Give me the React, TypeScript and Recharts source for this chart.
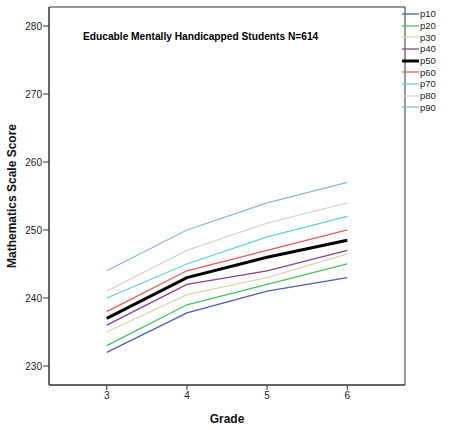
import { LineChart, Line, XAxis, YAxis, Legend, ReferenceArea } from "recharts"

const grades = [3, 4, 5, 6]
const p10 = [232, 237.8, 241, 243]
const p20 = [233, 239, 242, 245]
const p30 = [235, 240.5, 243, 246.5]
const p40 = [236, 242, 244, 247]
const p50 = [237, 243, 246, 248.5]
const p60 = [238, 244, 247, 250]
const p70 = [240, 245, 249, 252]
const p80 = [241, 247, 251, 254]
const p90 = [244, 250, 254, 257]
const yTicks = [230, 240, 250, 260, 270, 280]

const series = [
  { key: "p10", values: p10, color: "#4a5fb3", width: 1.3 },
  { key: "p20", values: p20, color: "#45c163", width: 1.3 },
  { key: "p30", values: p30, color: "#dcd8a8", width: 1.3 },
  { key: "p40", values: p40, color: "#8b3f90", width: 1.3 },
  { key: "p50", values: p50, color: "#000000", width: 3 },
  { key: "p60", values: p60, color: "#f05555", width: 1.3 },
  { key: "p70", values: p70, color: "#5dd3d3", width: 1.3 },
  { key: "p80", values: p80, color: "#d6d6d6", width: 1.3 },
  { key: "p90", values: p90, color: "#8cb5df", width: 1.3 },
]

const data = grades.map((g, i) => {
  const row: Record<string, number> = { grade: g }
  series.forEach(s => { row[s.key] = s.values[i] })
  return row
})

const font = "'Liberation Sans', Arial, sans-serif"
const tickStyle = { fontSize: 10, fill: "#222", fontFamily: font }

function renderLegend(props: any) {
  const items = props.payload || []
  return (
    <div style={{ fontFamily: font, fontSize: 9.5, color: "#222", textAlign: "left" }}>
      {items.map((it: any) => {
        const s = series.find(x => x.key === it.value)
        return (
          <div key={it.value} style={{ display: "flex", alignItems: "center", height: 11.7 }}>
            <svg width={17} height={6} style={{ marginRight: 1 }}>
              <line x1={0} y1={3} x2={17} y2={3} stroke={it.color} strokeWidth={s ? s.width : 1.3} />
            </svg>
            <span>{it.value}</span>
          </div>
        )
      })}
    </div>
  )
}

export default function App() {
  return (
    <div style={{ position: "relative", width: 451, height: 430, background: "#fff" }}>
      <style>{"body{margin:0}"}</style>
      <LineChart width={451} height={430} data={data} margin={{ top: 7, right: 46, bottom: 0, left: 0 }}>
        <XAxis
          dataKey="grade"
          type="number"
          domain={[2.28, 6.72]}
          ticks={grades}
          allowDataOverflow
          height={45}
          tickSize={5}
          tickMargin={2}
          stroke="#333"
          tick={tickStyle}
          label={{ value: "Grade", position: "insideBottom", offset: 7, style: { fontSize: 12, fontWeight: "bold", fill: "#111", fontFamily: font } }}
        />
        <YAxis
          domain={[227.2, 282.8]}
          ticks={yTicks}
          allowDataOverflow
          width={49}
          tickSize={6}
          tickMargin={1}
          stroke="#333"
          tick={tickStyle}
          label={{ value: "Mathematics Scale Score", angle: -90, position: "insideLeft", offset: 12, style: { textAnchor: "middle", fontSize: 12, fontWeight: "bold", fill: "#111", fontFamily: font } }}
        />
        <ReferenceArea x1={2.28} x2={6.72} y1={227.2} y2={282.8} fill="none" stroke="#333" strokeWidth={1} ifOverflow="visible" />
        {series.map(s => (
          <Line
            key={s.key}
            dataKey={s.key}
            name={s.key}
            stroke={s.color}
            strokeWidth={s.width}
            dot={false}
            activeDot={false}
            isAnimationActive={false}
          />
        ))}
        <Legend
          layout="horizontal"
          verticalAlign="middle"
          align="center"
          content={renderLegend}
          wrapperStyle={{ top: 8, left: 402, right: "auto", width: 49 }}
        />
      </LineChart>
      <div style={{ position: "absolute", left: 83, top: 31, fontFamily: font, fontSize: 10.2, fontWeight: "bold", color: "#000", whiteSpace: "nowrap" }}>
        Educable Mentally Handicapped Students N=614
      </div>
    </div>
  )
}
